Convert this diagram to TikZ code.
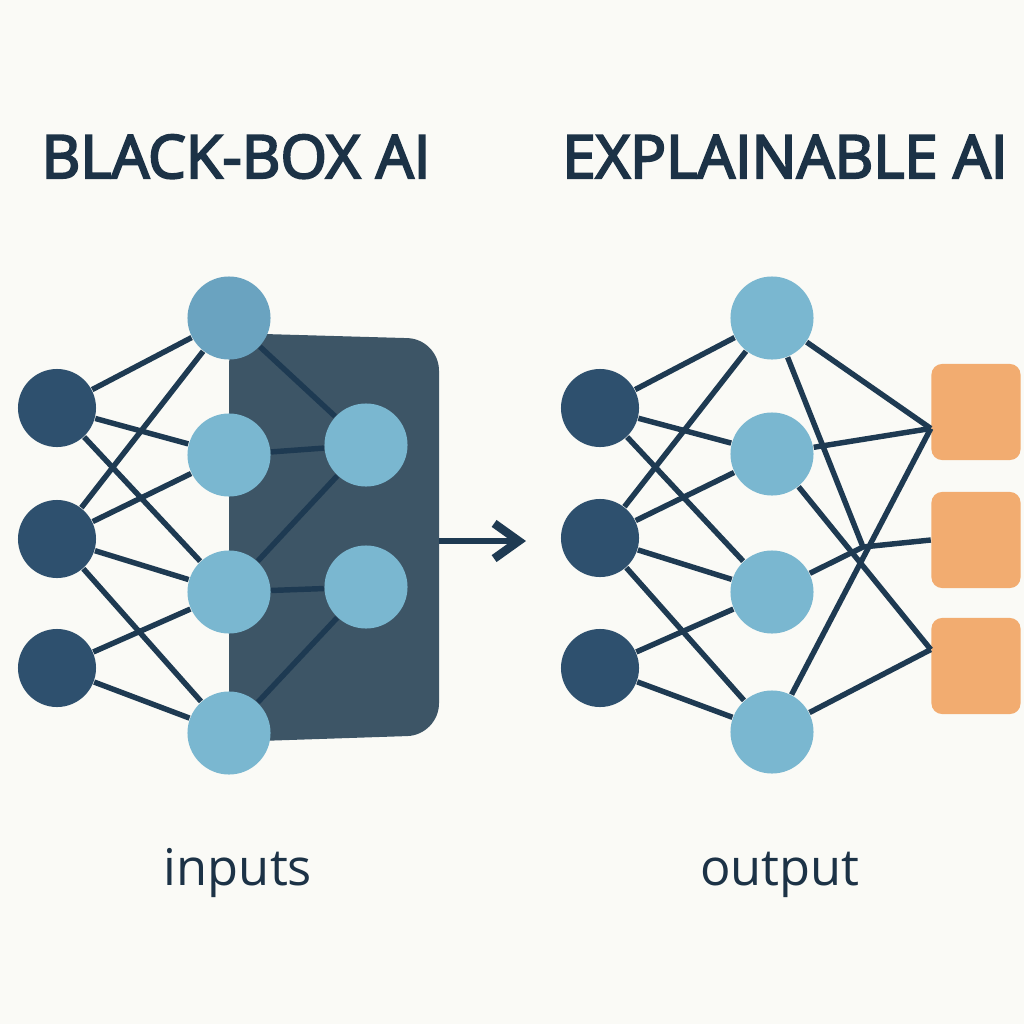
\documentclass[tikz,border=0pt]{standalone}
\usepackage{fontspec}
\setmainfont{Open Sans}
\newfontfamily\titlefont[FakeBold=3.5]{Open Sans}
\usetikzlibrary{arrows.meta}
\definecolor{bgcol}{HTML}{FAFAF6}
\definecolor{inblue}{HTML}{2E506E}
\definecolor{hidblue}{HTML}{7AB7D0}
\definecolor{topblue}{HTML}{6AA3C0}
\definecolor{boxgray}{HTML}{3D5566}
\definecolor{linkblue}{HTML}{1E3A52}
\definecolor{outorange}{HTML}{F2AC70}
\definecolor{textblue}{HTML}{1C3246}

\begin{document}
\begin{tikzpicture}[x=0.01cm, y=-0.01cm,
    innode/.style={circle, fill=inblue, minimum size=0.78cm, inner sep=0pt},
    hidnode/.style={circle, fill=hidblue, minimum size=0.83cm, inner sep=0pt},
    outbox/.style={rectangle, rounded corners=3pt, fill=outorange, minimum width=0.89cm, minimum height=0.96cm, inner sep=0pt},
    link/.style={draw=linkblue, line width=1.55pt},
    title/.style={font=\titlefont\fontsize{17}{20}\selectfont, text=textblue, anchor=base},
    caption/.style={font=\fontsize{14.4}{17}\selectfont, text=textblue, anchor=base}]

    % Canvas
    \useasboundingbox (0,0) rectangle (1024,1024);
    \fill[bgcol] (0,0) rectangle (1024,1024);

    % Titles
    \node[title] (ttlblack) at (236,178) {BLACK-BOX AI};
    \node[title] (ttlexpl) at (785,178) {EXPLAINABLE AI};

    % Black box
    \fill[boxgray, rounded corners=9pt] (229,333) -- (439,339) -- (439,735) -- (229,742) -- cycle;

    % Left network
    \node[innode] (bi1) at (57,408) {};
    \node[innode] (bi2) at (57,539) {};
    \node[innode] (bi3) at (57,668) {};
    \node[hidnode, fill=topblue] (bh1) at (229,318) {};
    \node[hidnode] (bh2) at (229,455) {};
    \node[hidnode] (bh3) at (229,592) {};
    \node[hidnode] (bh4) at (229,733) {};
    \node[hidnode] (bg1) at (366,445) {};
    \node[hidnode] (bg2) at (366,587) {};

    \draw[link] (bi1) -- (bh1) (bi1) -- (bh2) (bi1) -- (bh3);
    \draw[link] (bi2) -- (bh1) (bi2) -- (bh2) (bi2) -- (bh3) (bi2) -- (bh4);
    \draw[link] (bi3) -- (bh3) (bi3) -- (bh4);
    \draw[link] (bh1) -- (bg1) (bh2) -- (bg1) (bh3) -- (bg1);
    \draw[link] (bh3) -- (bg2) (bh4) -- (bg2);

    % Arrow between the two
    \coordinate (boxout) at (439,541);
    \coordinate (arrowtip) at (526,541);
    \draw[draw=linkblue, line width=1.9pt, -{Straight Barb[length=7pt, width=10pt, line width=2.4pt]}] (boxout) -- (arrowtip);

    % Right network
    \node[innode] (ei1) at (600,408) {};
    \node[innode] (ei2) at (600,538) {};
    \node[innode] (ei3) at (600,668) {};
    \node[hidnode] (eh1) at (772,318) {};
    \node[hidnode] (eh2) at (772,454) {};
    \node[hidnode] (eh3) at (772,592) {};
    \node[hidnode] (eh4) at (772,732) {};
    \node[outbox] (eo1) at (976,412) {};
    \node[outbox] (eo2) at (976,540) {};
    \node[outbox] (eo3) at (976,666) {};
    \coordinate (hub) at (863,547);

    \draw[link] (ei1) -- (eh1) (ei1) -- (eh2) (ei1) -- (eh3);
    \draw[link] (ei2) -- (eh1) (ei2) -- (eh2) (ei2) -- (eh3) (ei2) -- (eh4);
    \draw[link] (ei3) -- (eh3) (ei3) -- (eh4);
    \draw[link] (eh1) -- (eo1.200) (eh1) -- (hub);
    \draw[link] (eh2) -- (eo1.200) (eh2) -- (eo3.160);
    \draw[link] (eh3) -- (hub) (hub) -- (eo2.west);
    \draw[link] (eh4) -- (eo1.200) (eh4) -- (eo3.160);

    % Captions
    \node[caption] (lblin) at (238,885) {inputs};
    \node[caption] (lblout) at (780,885) {output};
\end{tikzpicture}
\end{document}
